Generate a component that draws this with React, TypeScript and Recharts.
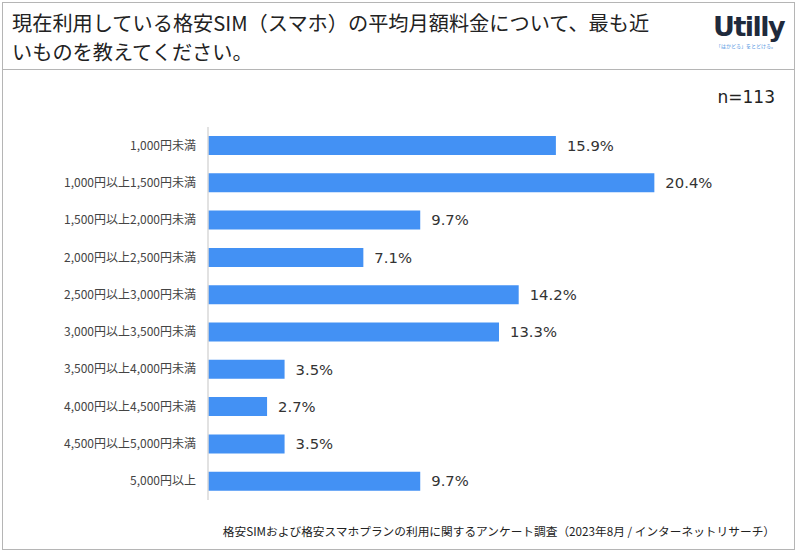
import { BarChart, Bar, XAxis, YAxis, LabelList } from 'recharts'

const categories = [
  '1,000円未満',
  '1,000円以上1,500円未満',
  '1,500円以上2,000円未満',
  '2,000円以上2,500円未満',
  '2,500円以上3,000円未満',
  '3,000円以上3,500円未満',
  '3,500円以上4,000円未満',
  '4,000円以上4,500円未満',
  '4,500円以上5,000円未満',
  '5,000円以上',
]
const shares = [15.9, 20.4, 9.7, 7.1, 14.2, 13.3, 3.5, 2.7, 3.5, 9.7]

const titleLines = ['現在利用している格安SIM（スマホ）の平均月額料金について、最も近', 'いものを教えてください。']
const sampleNote = 'n=113'
const sourceNote = '格安SIMおよび格安スマホプランの利用に関するアンケート調査（2023年8月 / インターネットリサーチ）'

const data = categories.map((name, i) => ({ name, value: shares[i] }))

const jpFont = '"Noto Sans CJK JP", "DejaVu Sans", sans-serif'
const numFont = '"DejaVu Sans", "Noto Sans CJK JP", sans-serif'

const CategoryTick = (props: any) => {
  const { x, y, payload } = props
  return (
    <text x={x} y={y} dy={4} textAnchor="end" fontSize={12} fill="#444" fontFamily={jpFont}>
      {payload.value}
    </text>
  )
}

export default function App() {
  return (
    <div style={{ position: 'fixed', left: 0, top: 0, width: 799, height: 555, background: '#fff', fontFamily: jpFont }}>
      {/* frame */}
      <div style={{ position: 'absolute', left: 2, top: 2, width: 791, height: 546, border: '1.5px solid #b5b5b5' }} />
      <div style={{ position: 'absolute', left: 2, top: 69, width: 793, height: 0, borderTop: '1.5px solid #b5b5b5' }} />

      {/* title */}
      <div style={{ position: 'absolute', left: 12, top: 8, fontSize: 20.2, lineHeight: '29px', color: '#222', whiteSpace: 'nowrap' }}>
        {titleLines.map((l) => (
          <div key={l}>{l}</div>
        ))}
      </div>

      {/* logo */}
      <div style={{ position: 'absolute', left: 713, top: 11, width: 66, textAlign: 'center' }}>
        <div style={{ fontFamily: '"DejaVu Sans", sans-serif', fontWeight: 'bold', fontSize: 27, color: '#1f2a3c', letterSpacing: -1.5, lineHeight: '32px' }}>Utilly</div>
        <div style={{ fontSize: 5, color: '#4a8fe0', lineHeight: '6px', whiteSpace: 'nowrap' }}>「はかどる」をとどける。</div>
      </div>

      {/* n */}
      <div style={{ position: 'absolute', right: 24, top: 87, fontFamily: numFont, fontSize: 17, color: '#222' }}>{sampleNote}</div>

      <BarChart
        width={799}
        height={555}
        data={data}
        layout="vertical"
        margin={{ top: 127, right: 44, bottom: 55, left: 0 }}
        barCategoryGap={18}
        style={{ position: 'absolute', left: 0, top: 0 }}
      >
        <XAxis type="number" domain={[0, 25]} hide />
        <YAxis
          type="category"
          dataKey="name"
          width={208}
          axisLine={{ stroke: '#d9d9d9', strokeWidth: 1.5 }}
          tickLine={false}
          tickMargin={6}
          tick={<CategoryTick />}
          interval={0}
        />
        <Bar dataKey="value" fill="#4391f4" barSize={19} isAnimationActive={false}>
          <LabelList
            dataKey="value"
            position="right"
            offset={11}
            fontSize={14.8}
            fill="#333"
            fontFamily={numFont}
            formatter={(v: any) => `${Number(v).toFixed(1)}%`}
          />
        </Bar>
      </BarChart>

      {/* source */}
      <div style={{ position: 'absolute', right: 24, top: 522, fontSize: 11.7, color: '#222', whiteSpace: 'nowrap' }}>{sourceNote}</div>
    </div>
  )
}
